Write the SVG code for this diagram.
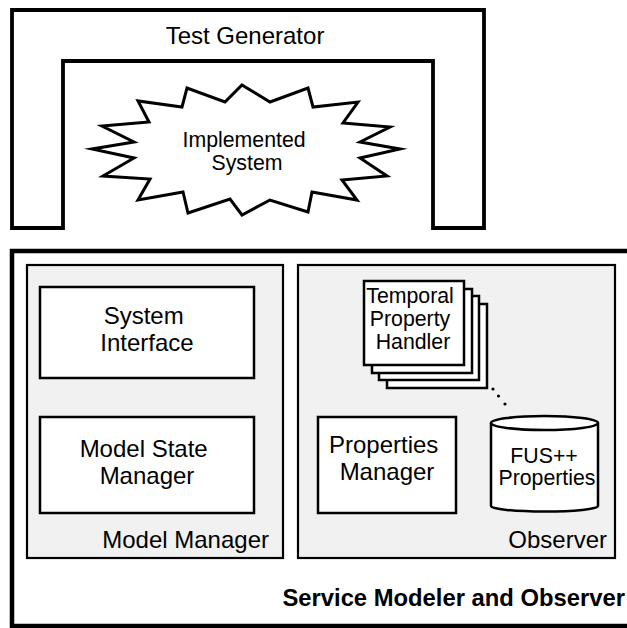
<svg xmlns="http://www.w3.org/2000/svg" width="627" height="628" viewBox="0 0 627 628">
  <style>
    .txt { font-family: "Liberation Sans", Arial, sans-serif; fill: #000; }
    .big { font-size: 24px; }
    .mid { font-size: 21.3px; }
    .bold { font-size: 23.8px; font-weight: bold; }
    .panel { fill: #f1f1f1; stroke: #000; stroke-width: 2.2; }
    .box { fill: #fff; stroke: #000; stroke-width: 2.5; }
  </style>

  <!-- Test generator frame with the system under test inside -->
  <g id="test-generator">
    <path d="M12,228 V10 H484 V228 H433 V61 H63 V228 Z" fill="#fff" stroke="#000" stroke-width="3.8" stroke-linejoin="miter"/>
    <text class="txt big" x="245" y="44" text-anchor="middle">Test Generator</text>
  </g>

  <g id="implemented-system">
    <polygon fill="#fff" stroke="#000" stroke-width="3" stroke-linejoin="miter" stroke-miterlimit="10"
      points="242,85 270,102 308,88 313,107 358,102 343,123 390,127 360,142 400,149 360,158 387,176 342,180 357,200 312,192 308,212 270,200 242,215 230,199 188,213 183,192 138,200 150,179 103,176 134,158 92,149 134,142 102,126 149,122 138,101 182,107 187,88 225,102"/>
    <text class="txt mid" text-anchor="middle">
      <tspan x="247" y="147">Implemented</tspan>
      <tspan x="247" y="170">System</tspan>
    </text>
  </g>

  <!-- Service modeler and observer container (open to the right) -->
  <g id="service-modeler">
    <path d="M640,251 H12 V626 H640" fill="#fff" stroke="#000" stroke-width="4.5"/>
    <text class="txt bold" x="625" y="606" text-anchor="end">Service Modeler and Observer</text>
  </g>

  <g id="model-manager">
    <rect class="panel" x="27" y="265" width="256" height="293"/>
    <text class="txt big" x="269" y="548" text-anchor="end">Model Manager</text>
  </g>

  <g id="system-interface">
    <rect class="box" x="40" y="287" width="214" height="91"/>
    <text class="txt big" text-anchor="middle">
      <tspan x="147" y="324">System</tspan>
      <tspan x="147" y="351">Interface</tspan>
    </text>
  </g>

  <g id="model-state-manager">
    <rect class="box" x="40" y="417" width="214" height="96"/>
    <text class="txt big" text-anchor="middle">
      <tspan x="147" y="457">Model State</tspan>
      <tspan x="147" y="484">Manager</tspan>
    </text>
  </g>

  <g id="observer">
    <rect class="panel" x="298" y="265" width="317" height="293"/>
    <text class="txt big" x="607" y="548" text-anchor="end">Observer</text>
  </g>

  <g id="temporal-property-handler">
    <rect class="box" x="387" y="304" width="100" height="84"/>
    <rect class="box" x="379" y="296" width="100" height="84"/>
    <rect class="box" x="372" y="289" width="100" height="84"/>
    <rect class="box" x="364" y="281" width="100" height="84"/>
    <text class="txt mid" text-anchor="middle">
      <tspan x="413" y="303">Temporal</tspan>
      <tspan x="413" y="326">Property</tspan>
      <tspan x="413" y="349">Handler</tspan>
    </text>
  </g>

  <g id="properties-manager">
    <rect class="box" x="318" y="417" width="138" height="96"/>
    <text class="txt big" text-anchor="middle">
      <tspan x="387" y="453">Properties</tspan>
      <tspan x="387" y="480">Manager</tspan>
    </text>
  </g>

  <g id="fus-properties">
    <path d="M491,423 V506 A53.5,5.5 0 0 0 598,506 V423" fill="#fff" stroke="#000" stroke-width="2.5"/>
    <ellipse cx="544.5" cy="423" rx="53.5" ry="7" fill="#fff" stroke="#000" stroke-width="2.5"/>
    <text class="txt mid" text-anchor="middle">
      <tspan x="547" y="463">FUS++</tspan>
      <tspan x="547" y="485">Properties</tspan>
    </text>
  </g>

  <!-- Ellipsis linking the handler stack to the property store -->
  <g id="connectors">
    <circle cx="493" cy="389" r="1.6" fill="#000"/>
    <circle cx="498.5" cy="396" r="1.6" fill="#000"/>
    <circle cx="505" cy="404" r="1.6" fill="#000"/>
  </g>
</svg>
